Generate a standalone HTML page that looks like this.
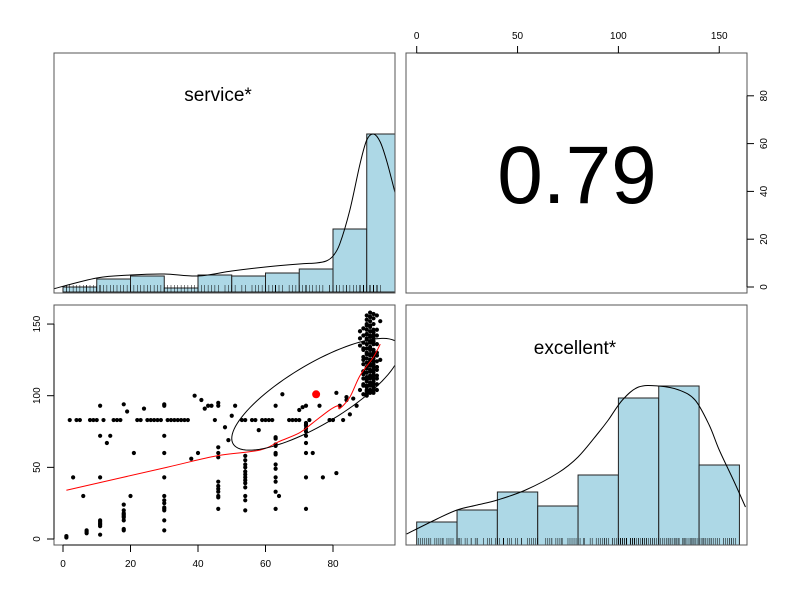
<!DOCTYPE html>
<html><head><meta charset="utf-8"><style>
body{margin:0;background:#fff}
svg{display:block;font-family:"Liberation Sans",sans-serif}
</style></head><body>
<svg id="c" width="800" height="600" xmlns="http://www.w3.org/2000/svg"></svg>
<script>
// ---------- data ----------
const serviceBins = [0,10,20,30,40,50,60,70,80,90];
const serviceCounts = [5,13,16,4,17,16,19,23,63,158];
const excellentBins = [0,20,40,60,80,100,120,140];
const excellentCounts = [23,35,53,39,70,147,159,80];
const serviceDensX = [-3,10,20,30,40,50,60,70,75,78,80,82,85,88,90,92,94,96,98.4];
const serviceDensY = [3,14,17,18,16,21,25,28,29,31,36,48,82,128,152,158,150,130,99];
const excellentDensX = [-5,10,20,30,40,54,70,80,90,95,102,110,120,130,138,145,150,157,163];
const excellentDensY = [11,26,35,40,45,55,72,88,112,125,145,158,159,155,145,120,95,65,38];
const loessX = [1,30.7,45.5,58.3,64,70,74,79,81.5,82,85,88,92,94];
const loessY = [34,50,58,62,68,74,81,90,93,91,99,114,127,136];
const corrLabel = "0.79";
const meanX = 75, meanY = 101, sdX = 25, sdY = 39, rVal = 0.79;
const ptsX = [1,1,7,7,7,11,11,11,11,11,11,18,18,18,18,18,18,18,18,18,30,30,30,30,30,30,30,30,30,30,30,30,30,3,6,11,11,13,14,11,18,19,20,21,24,38,39,40,41,42,43,44,46,46,46,46,46,46,46,46,46,46,46,46,48,49,50,51,54,54,54,54,54,54,54,54,54,54,54,54,54,58,63,63,63,63,63,63,63,63,63,63,63,63,64,63,65,70,71,72,72,72,72,72,72,72,72,72,72,72,73,74,75,76,77,79,81,81,82,83,84,84,85,86,87,
2,4,5,8,9,10,12,15,16,17,22,23,25,26,27,28,29,31,32,33,34,35,36,37,45,53,54,56,57,59,60,61,62,67,68,69,70,79,80,
88,89,89,89,89,90,90,90,90,90,90,90,90,90,90,90,91,91,91,91,91,91,91,91,91,91,91,91,91,91,91,92,92,92,92,92,92,92,92,92,92,92,92,93,93,93,93,93,93,91,92,90,89,93,94,91,90,92,
89,89,89,89,89,89,89,89,89,89,90,90,90,90,90,90,90,90,90,90,90,90,90,90,91,91,91,91,91,91,91,91,91,91,91,91,91,91,92,92,92,92,92,92,92,92,92,92,92,92,92,93,93,93,93,93,93,93,93,88,88,88,94,94];
const ptsY = [1,2,4,6,5,3,9,10,12,13,11,6,7,13,15,16,17,18,20,24,6,13,20,21,22,25,27,30,43,60,72,93,94,43,30,43,72,67,72,93,94,89,30,60,91,56,100,60,97,91,93,93,95,93,64,60,57,40,37,35,33,30,29,21,78,69,86,93,58,55,52,50,47,45,43,41,39,36,30,27,20,76,93,71,70,66,65,60,59,52,49,43,40,33,30,21,101,90,92,93,81,80,79,77,75,72,67,60,43,21,83,60,101,93,43,83,102,46,93,83,97,99,87,98,93,
83,83,83,83,83,83,83,83,83,83,83,83,83,83,83,83,83,83,83,83,83,83,83,83,83,83,83,83,83,83,83,83,83,83,83,83,83,83,83,
104,108,115,125,133,104,110,116,120,126,130,136,140,146,150,106,104,108,112,118,122,128,132,138,142,148,152,155,114,124,134,104,106,110,116,120,126,130,138,144,150,154,140,104,112,120,130,146,156,158,157,100,117,128,152,155,143,
102,107,112,117,122,127,132,137,142,147,101,103,107,111,113,119,123,129,133,139,143,149,153,156,101,103,107,109,113,117,121,125,129,133,137,141,145,149,102,104,108,112,114,118,122,124,128,132,136,142,146,106,108,114,118,124,128,136,142,120,135,145,140,125];
const xTicks = [0,20,40,60,80];
const yTicks = [0,50,100,150];
const topTicks = [0,50,100,150];
const rightTicks = [0,20,40,60,80];

// ---------- helpers ----------
const svg = document.getElementById('c');
const NS = 'http://www.w3.org/2000/svg';
function mk(tag, attrs, parent){const e=document.createElementNS(NS,tag);for(const k in attrs)e.setAttribute(k,attrs[k]);(parent||svg).appendChild(e);return e;}
function smooth(p){let d='M'+p[0][0]+','+p[0][1];for(let i=0;i<p.length-1;i++){const p0=p[i-1]||p[i],p1=p[i],p2=p[i+1],p3=p[i+2]||p2;
 d+=' C'+(p1[0]+(p2[0]-p0[0])/6)+','+(p1[1]+(p2[1]-p0[1])/6)+' '+(p2[0]-(p3[0]-p1[0])/6)+','+(p2[1]-(p3[1]-p1[1])/6)+' '+p2[0]+','+p2[1];}return d;}
const sx = v => 63 + v*3.375;
const sy = v => 539 - v*1.433;
const ex = v => 416.7 + v*2.017;
const rsy = v => 287 - v*2.39;
const hs = v => 292 - v;
const he = v => 545 - v;
const BORDER = '#555';

const defs = mk('defs',{});
const cp1 = mk('clipPath',{id:'clipTL'},defs); mk('rect',{x:54,y:53,width:341,height:240},cp1);
const cp2 = mk('clipPath',{id:'clipBL'},defs); mk('rect',{x:54,y:305,width:341,height:240},cp2);
const cp3 = mk('clipPath',{id:'clipBR'},defs); mk('rect',{x:406,y:305,width:341,height:240},cp3);

// ---------- top-left: service histogram ----------
const gTL = mk('g',{'clip-path':'url(#clipTL)'});


serviceBins.forEach((b,i)=>{
  const r = mk('rect',{x:sx(b),y:hs(serviceCounts[i]),width:sx(b+10)-sx(b),height:serviceCounts[i],fill:'#add8e6',stroke:'#222','stroke-width':1},gTL);
  
  
});
ptsX.forEach(v=>{mk('line',{x1:sx(v),x2:sx(v),y1:292,y2:285,stroke:'#000','stroke-width':0.5},gTL);});
const sd = mk('path',{d:smooth(serviceDensX.map((v,i)=>[sx(v),hs(serviceDensY[i])])),fill:'none',stroke:'#000','stroke-width':1},gTL);


const tl = mk('text',{x:218,y:101,'font-size':19,'text-anchor':'middle'}); tl.textContent='service*';


mk('rect',{x:54,y:53,width:341,height:240,fill:'none',stroke:BORDER,'stroke-width':1});

// ---------- top-right: correlation ----------
const cr = mk('text',{x:577,y:203,'font-size':82,'text-anchor':'middle'}); cr.textContent=corrLabel;


mk('rect',{x:406,y:53,width:341,height:240,fill:'none',stroke:BORDER,'stroke-width':1});
mk('line',{x1:ex(0),x2:ex(150),y1:53,y2:53,stroke:'#000'});
topTicks.forEach(t=>{
  mk('line',{x1:ex(t),x2:ex(t),y1:53,y2:46,stroke:'#000'});
  const tx=mk('text',{x:ex(t),y:39,'font-size':10,'text-anchor':'middle'}); tx.textContent=t;
  
  
});
mk('line',{x1:747,x2:747,y1:rsy(0),y2:rsy(80),stroke:'#000'});
rightTicks.forEach(t=>{
  mk('line',{x1:747,x2:754,y1:rsy(t),y2:rsy(t),stroke:'#000'});
  const tx=mk('text',{x:0,y:0,'font-size':10,'text-anchor':'middle',transform:`translate(767,${rsy(t)}) rotate(-90)`}); tx.textContent=t;
  
  
});

// ---------- bottom-left: scatter ----------
const gBL = mk('g',{'clip-path':'url(#clipBL)'});


ptsX.forEach((v,i)=>{
  const c = mk('circle',{cx:sx(v),cy:sy(ptsY[i]),r:2.1,fill:'#000'},gBL);
  
  
});
const lo = mk('path',{d:smooth(loessX.map((v,i)=>[sx(v),sy(loessY[i])])),fill:'none',stroke:'#f00','stroke-width':1},gBL);


const d = Math.acos(rVal)/2; let ep=[];
for(let k=0;k<=100;k++){const t=k/100*2*Math.PI;ep.push(sx(meanX+sdX*Math.cos(t+d))+','+sy(meanY+sdY*Math.cos(t-d)));}
const el = mk('polygon',{points:ep.join(' '),fill:'none',stroke:'#000','stroke-width':1},gBL);


const md = mk('circle',{cx:sx(meanX),cy:sy(meanY),r:4,fill:'#f00'},gBL);


mk('rect',{x:54,y:305,width:341,height:240,fill:'none',stroke:BORDER,'stroke-width':1});
mk('line',{x1:sx(0),x2:sx(80),y1:545,y2:545,stroke:'#000'});
xTicks.forEach(t=>{
  mk('line',{x1:sx(t),x2:sx(t),y1:545,y2:552,stroke:'#000'});
  const tx=mk('text',{x:sx(t),y:567,'font-size':10,'text-anchor':'middle'}); tx.textContent=t;
  
  
});
mk('line',{x1:54,x2:54,y1:sy(0),y2:sy(150),stroke:'#000'});
yTicks.forEach(t=>{
  mk('line',{x1:47,x2:54,y1:sy(t),y2:sy(t),stroke:'#000'});
  const tx=mk('text',{x:0,y:0,'font-size':10,'text-anchor':'middle',transform:`translate(40,${sy(t)}) rotate(-90)`}); tx.textContent=t;
  
  
});

// ---------- bottom-right: excellent histogram ----------
const gBR = mk('g',{'clip-path':'url(#clipBR)'});


excellentBins.forEach((b,i)=>{
  const r = mk('rect',{x:ex(b),y:he(excellentCounts[i]),width:ex(b+20)-ex(b),height:excellentCounts[i],fill:'#add8e6',stroke:'#222','stroke-width':1},gBR);
  
  
});
ptsY.forEach(v=>{mk('line',{x1:ex(v),x2:ex(v),y1:545,y2:538,stroke:'#000','stroke-width':0.5},gBR);});
const ed = mk('path',{d:smooth(excellentDensX.map((v,i)=>[ex(v),he(excellentDensY[i])])),fill:'none',stroke:'#000','stroke-width':1},gBR);


const bl = mk('text',{x:575,y:354,'font-size':19,'text-anchor':'middle'}); bl.textContent='excellent*';


mk('rect',{x:406,y:305,width:341,height:240,fill:'none',stroke:BORDER,'stroke-width':1});
</script>
</body></html>
